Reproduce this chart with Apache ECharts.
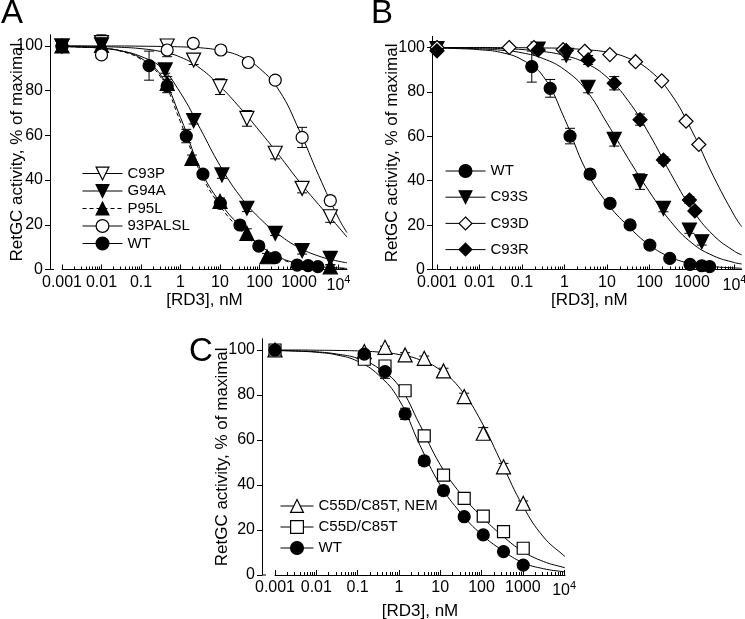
<!DOCTYPE html>
<html>
<head>
<meta charset="utf-8">
<script src="https://cdn.jsdelivr.net/npm/echarts@6.0.0/dist/echarts.min.js"></script>
<style>
html,body{margin:0;padding:0;background:#fff;}
#chart{width:745px;height:619px;}
</style>
</head>
<body>
<div id="chart"></div>
<script>
// ---------- tick labels ----------
const xTickExp = [-3, -2, -1, 0, 1, 2, 3, 4];
const xTickLabels = ['0.001', '0.01', '0.1', '1', '10', '100', '1000', '10^4'];
const yTickValues = [0, 20, 40, 60, 80, 100];

// ---------- Panel A : measured points ([RD3] nM, % activity, error) ----------
const aC93P_x = [0.001, 0.01, 0.46, 2.15, 10, 48, 250, 1200, 6200];
const aC93P_y = [100, 101.5, 100, 93.7, 81.8, 67.6, 52, 36.3, 23.6];
const aC93P_e = [0.5, 3.5, 2.5, 2, 3.5, 3.5, 2.5, 2, 2.5];

const aG94A_x = [0.001, 0.01, 0.41, 2.15, 11.2, 48, 250, 1200, 6200];
const aG94A_y = [100, 100.5, 89.3, 66.6, 42.3, 27.4, 16.2, 8.4, 5];
const aG94A_e = [0.8, 1, 1.5, 1.5, 1.5, 1.5, 1, 1.5, 3];

const aP95L_x = [0.001, 0.01, 0.46, 1.95, 10, 48, 155, 6200];
const aP95L_y = [100, 100.3, 83.3, 49.7, 30.5, 16.2, 5.7, 1.2];
const aP95L_e = [0.8, 1.5, 3, 1.5, 1.5, 2, 1.5, 1];

const aPALSL_x = [0.001, 0.01, 0.46, 2.1, 10.5, 52, 250, 1200, 6200];
const aPALSL_y = [100, 96, 98.2, 101.2, 98.2, 92.6, 84.7, 59.1, 30.8];
const aPALSL_e = [0.5, 1.5, 3, 1.5, 0.8, 1.5, 1.5, 4.5, 2];

const aWT_x = [0.001, 0.16, 0.46, 1.4, 3.7, 10.2, 32, 96, 250, 900, 1700, 3000];
const aWT_y = [100, 91.2, 82.1, 59.7, 42.7, 29.6, 19.9, 10.5, 5.3, 2, 1.7, 1.3];
const aWT_e = [0.8, 6.5, 3, 3, 1.5, 1.5, 1, 1, 1, 0.8, 0.6, 0.5];

// ---------- Panel A : fitted curves (read at log10 [RD3]) ----------
const aCurveExp = [-3, -2.5, -2, -1.5, -1, -0.5, 0, 0.5, 1, 1.5, 2, 2.5, 3, 3.5, 4, 4.215];
const aC93P_fit = [100, 99.9, 99.7, 99.4, 98.8, 97.5, 95, 90, 82, 72.5, 62, 51, 39.5, 29, 19, 14.5];
const aG94A_fit = [99.8, 99.5, 99, 97.8, 95.3, 90.5, 79, 63, 46.5, 33, 23, 15.5, 9.8, 6, 3.7, 3];
const aP95L_fit = [99.8, 99.5, 99, 97.6, 94, 86, 66, 43.5, 28.5, 18, 10, 5, 2.3, 1.1, 0.6, 0.45];
const aPALSL_fit = [100, 100, 100, 100, 99.9, 99.8, 99.6, 99.2, 98, 95.5, 90, 80, 62.5, 42, 23, 16.5];
const aWT_fit = [99.8, 99.5, 99, 97.8, 94.5, 87, 68, 45, 30, 19.5, 11, 5.5, 2.6, 1.3, 0.7, 0.5];

// ---------- Panel B : measured points ----------
const bWT_x = [0.001, 0.17, 0.46, 1.35, 4, 11.8, 35, 102, 300, 900, 1700, 2600];
const bWT_y = [99.2, 91.4, 81.6, 60.1, 43, 29.8, 20.1, 11, 5, 2.3, 1.7, 1.3];
const bWT_e = [1, 7, 4, 3.5, 2, 1, 1, 1, 1, 0.8, 0.6, 0.5];

const bC93S_x = [0.001, 0.24, 1.1, 3.6, 14.8, 60, 213, 870, 1700];
const bC93S_y = [99.5, 99.3, 96.5, 82.1, 58.6, 39.6, 27.5, 17.8, 12.5];
const bC93S_e = [0.8, 1, 2, 2.5, 3, 3.5, 1.5, 1.5, 1.5];

const bC93D_x = [0.001, 0.05, 0.19, 0.93, 3.0, 11.7, 47, 194, 725, 1450];
const bC93D_y = [100, 100, 100, 99, 98.3, 96.8, 93.6, 85, 66.8, 56.3];
const bC93D_e = [0.3, 0.5, 0.5, 0.5, 0.8, 1.2, 1, 0.8, 1, 0.8];

const bC93R_x = [0.001, 0.24, 1.1, 3.6, 14.8, 60, 213, 870, 1170];
const bC93R_y = [98.5, 98.9, 98.6, 94.4, 83.9, 67.5, 49.3, 31.3, 26.4];
const bC93R_e = [1, 1, 1, 2, 3, 2.5, 1.5, 1.5, 1];

// ---------- Panel B : fitted curves ----------
const bCurveExp = [-3, -2.5, -2, -1.5, -1, -0.5, 0, 0.5, 1, 1.5, 2, 2.5, 3, 3.5, 4, 4.17];
const bWT_fit = [99.8, 99.5, 99, 97.8, 94.5, 87, 68, 45, 30, 19.5, 11, 5.5, 2.6, 1.3, 0.7, 0.55];
const bC93S_fit = [99.8, 99.7, 99.4, 98.8, 97.6, 95, 90, 81, 66, 50, 35, 21.6, 11.9, 6.2, 3.1, 2.5];
const bC93D_fit = [100, 100, 100, 99.95, 99.9, 99.8, 99.6, 99, 97.9, 95.2, 89.7, 79.2, 62.4, 42.2, 24.2, 19.3];
const bC93R_fit = [99.95, 99.9, 99.8, 99.5, 99.1, 98.2, 96.4, 93, 86.6, 76, 60.8, 43.2, 27.2, 15.5, 8.2, 6.6];

// ---------- Panel C : measured points ----------
const cConc_x = [0.001, 0.145, 0.46, 1.41, 4.1, 12, 38, 110, 340, 1020];
const cNEM_y = [100, 99.3, 101.2, 97.8, 96.3, 90.7, 79.3, 63, 48.1, 31.9];
const cNEM_e = [0.5, 0.5, 0.5, 1, 1, 1.2, 1.5, 2.5, 1.5, 1];
const cSQ_y = [100, 95.9, 92.9, 81.9, 61.8, 44.4, 34.1, 26.2, 19.3, 11.9];
const cSQ_e = [0.5, 1, 1, 1, 1, 1, 1, 1, 1, 1];
const cWT_y = [100, 98.2, 90.4, 71.6, 50.7, 37.5, 25.9, 17.8, 10.4, 4.4];
const cWT_e = [0.5, 1, 3, 2.5, 2, 2, 1, 1, 1, 1];

// ---------- Panel C : fitted curves ----------
const cCurveExp = [-3, -2.5, -2, -1.5, -1, -0.5, 0, 0.5, 1, 1.5, 2, 2.5, 3, 3.5, 4, 4.02];
const cNEM_fit = [100, 100, 99.9, 99.8, 99.6, 99.1, 98, 95.7, 91.1, 82.4, 68, 49.2, 30.7, 16.9, 8.5, 8.2];
const cSQ_fit = [99.8, 99.6, 99.2, 98.2, 96.3, 92, 84, 67, 49, 36, 26, 17.5, 10.5, 6, 3.3, 3.2];
const cWT_fit = [99.8, 99.5, 99, 97.8, 95, 89, 78, 58, 40, 27.5, 18, 11, 5.5, 2.8, 1.4, 1.35];

// ================= build chart =================
const FONT = 'Liberation Sans, Arial, Helvetica, sans-serif';
const TICK_FS = 16;
const TITLE_FS = 17;
const panels = [
  {left: 62, top: 34.8, width: 285, height: 234.7, yOffset: 12, xMax: 4.215, yNameGap: 24.5, xNameGap: 22},
  {left: 437, top: 36.4, width: 304.7, height: 233.1, yOffset: 5, xMax: 4.17, yNameGap: 31.5, xNameGap: 22},
  {left: 275, top: 338.75, width: 290, height: 236.25, yOffset: 13, xMax: 4.02, yNameGap: 31.5, xNameGap: 28}
];

const minorExp = [];
for (let n = -3; n < 4; n++) for (let k = 2; k <= 9; k++) minorExp.push(n + Math.log10(k));

const STY = {
  openTriDown: {symbol: 'triangle', rotate: 180, size: 14, fill: '#fff'},
  fillTriDown: {symbol: 'triangle', rotate: 180, size: 14, fill: '#000'},
  fillTriUp:   {symbol: 'triangle', rotate: 0, size: 14, fill: '#000'},
  openTriUp:   {symbol: 'triangle', rotate: 0, size: 14, fill: '#fff'},
  openCircle:  {symbol: 'circle', rotate: 0, size: 12, fill: '#fff'},
  fillCircle:  {symbol: 'circle', rotate: 0, size: 12, fill: '#000'},
  openDiamond: {symbol: 'diamond', rotate: 0, size: 14, fill: '#fff'},
  fillDiamond: {symbol: 'diamond', rotate: 0, size: 14, fill: '#000'},
  openSquare:  {symbol: 'rect', rotate: 0, size: 12, fill: '#fff'}
};

const grids = [], xAxes = [], yAxes = [], series = [], stubs = [];

panels.forEach((p, i) => {
  grids.push({left: p.left, top: p.top, width: p.width, height: p.height, containLabel: false, outerBoundsMode: 'none'});
  xAxes.push({
    type: 'value', gridIndex: i, min: -3, max: p.xMax, interval: 1, position: 'bottom',
    name: '[RD3], nM', nameLocation: 'middle', nameGap: p.xNameGap, nameMoveOverlap: false,
    nameTextStyle: {fontSize: TITLE_FS, color: '#000', fontFamily: FONT},
    axisLine: {onZero: false, lineStyle: {color: '#000', width: 1}},
    axisTick: {inside: true, length: 5, lineStyle: {color: '#000'}, customValues: xTickExp},
    axisLabel: {
      customValues: xTickExp, margin: 5, fontSize: TICK_FS, color: '#000', fontFamily: FONT,
      formatter: v => {
        const idx = xTickExp.indexOf(Math.round(v));
        if (idx < 0 || Math.abs(v - Math.round(v)) > 1e-6) return '';
        const t = xTickLabels[idx];
        if (t.indexOf('^') > 0) { const s = t.split('^'); return '{n|' + s[0] + '}{s|' + s[1] + '}'; }
        return t;
      },
      rich: {n: {fontSize: TICK_FS, fontFamily: FONT, color: '#000', verticalAlign: 'bottom'},
             s: {fontSize: 11, fontFamily: FONT, color: '#000', verticalAlign: 'bottom', padding: [0, 0, 8, 0]}}
    },
    splitLine: {show: false}
  });
  xAxes.push({
    type: 'value', gridIndex: i, min: -3, max: p.xMax, interval: 1, position: 'bottom',
    axisLine: {show: false, onZero: false},
    axisTick: {inside: true, length: 3, lineStyle: {color: '#000'}, customValues: minorExp},
    axisLabel: {show: false}, splitLine: {show: false}
  });
  yAxes.push({
    type: 'value', gridIndex: i, min: 0, max: 105, interval: 20, offset: p.yOffset,
    name: 'RetGC activity, % of maximal', nameLocation: 'middle', nameGap: p.yNameGap, nameMoveOverlap: false,
    nameTextStyle: {fontSize: TITLE_FS, color: '#000', fontFamily: FONT},
    axisLine: {show: true, onZero: false, lineStyle: {color: '#000', width: 1}},
    axisTick: {show: true, inside: false, length: 5, lineStyle: {color: '#000'}, customValues: yTickValues},
    axisLabel: {customValues: yTickValues, margin: 7, fontSize: TICK_FS, color: '#000', fontFamily: FONT,
      formatter: v => (yTickValues.indexOf(v) >= 0 ? String(v) : '')},
    splitLine: {show: false}
  });
  // short stub of the x baseline next to the y axis (axis break look)
  const y0 = p.top + p.height, xa = p.left - p.yOffset;
  stubs.push({type: 'line', shape: {x1: xa, y1: y0, x2: xa + 4, y2: y0}, style: {stroke: '#000', lineWidth: 1}, silent: true});
});

function errRender(params, api) {
  const x = api.value(0), y = api.value(1), e = api.value(2);
  const t = api.coord([x, y + e]);
  const b = api.coord([x, y - e]);
  const w = 5;
  const st = {stroke: '#000', lineWidth: 1};
  return {type: 'group', children: [
    {type: 'line', shape: {x1: t[0], y1: t[1], x2: b[0], y2: b[1]}, style: st},
    {type: 'line', shape: {x1: t[0] - w, y1: t[1], x2: t[0] + w, y2: t[1]}, style: st},
    {type: 'line', shape: {x1: b[0] - w, y1: b[1], x2: b[0] + w, y2: b[1]}, style: st}
  ]};
}

function addSet(panel, name, xs, ys, es, exps, fit, sty, dashed) {
  series.push({
    type: 'line', name: name, xAxisIndex: panel * 2, yAxisIndex: panel,
    data: exps.map((e, k) => [e, fit[k]]), smooth: 0.45, showSymbol: false,
    symbol: sty.symbol, symbolRotate: sty.rotate, symbolSize: sty.size,
    itemStyle: {color: sty.fill, borderColor: '#000', borderWidth: 1.2},
    lineStyle: {color: '#000', width: 1, type: dashed ? [4, 3] : 'solid'},
    silent: true, z: 2
  });
  series.push({
    type: 'custom', name: name + ' err', xAxisIndex: panel * 2, yAxisIndex: panel,
    data: xs.map((x, k) => [Math.log10(x), ys[k], es[k]]),
    encode: {x: 0, y: 1}, renderItem: errRender, silent: true, z: 3
  });
  series.push({
    type: 'scatter', name: name + ' pts', xAxisIndex: panel * 2, yAxisIndex: panel,
    data: xs.map((x, k) => [Math.log10(x), ys[k]]),
    symbol: sty.symbol, symbolRotate: sty.rotate, symbolSize: sty.size,
    itemStyle: {color: sty.fill, borderColor: '#000', borderWidth: 1.2, opacity: 1},
    silent: true, z: 4
  });
}

// Panel A
addSet(0, 'C93P', aC93P_x, aC93P_y, aC93P_e, aCurveExp, aC93P_fit, STY.openTriDown);
addSet(0, 'G94A', aG94A_x, aG94A_y, aG94A_e, aCurveExp, aG94A_fit, STY.fillTriDown);
addSet(0, 'P95L', aP95L_x, aP95L_y, aP95L_e, aCurveExp, aP95L_fit, STY.fillTriUp, true);
addSet(0, '93PALSL', aPALSL_x, aPALSL_y, aPALSL_e, aCurveExp, aPALSL_fit, STY.openCircle);
addSet(0, 'WT', aWT_x, aWT_y, aWT_e, aCurveExp, aWT_fit, STY.fillCircle);
// Panel B
addSet(1, 'WT ', bWT_x, bWT_y, bWT_e, bCurveExp, bWT_fit, STY.fillCircle);
addSet(1, 'C93S', bC93S_x, bC93S_y, bC93S_e, bCurveExp, bC93S_fit, STY.fillTriDown);
addSet(1, 'C93D', bC93D_x, bC93D_y, bC93D_e, bCurveExp, bC93D_fit, STY.openDiamond);
addSet(1, 'C93R', bC93R_x, bC93R_y, bC93R_e, bCurveExp, bC93R_fit, STY.fillDiamond);
// Panel C
addSet(2, 'C55D/C85T, NEM', cConc_x, cNEM_y, cNEM_e, cCurveExp, cNEM_fit, STY.openTriUp);
addSet(2, 'C55D/C85T', cConc_x, cSQ_y, cSQ_e, cCurveExp, cSQ_fit, STY.openSquare);
addSet(2, 'WT  ', cConc_x, cWT_y, cWT_e, cCurveExp, cWT_fit, STY.fillCircle);

function legItem(name, fill, dashed) {
  return {name: name, itemStyle: {color: fill, borderColor: '#000', borderWidth: 1.2},
          lineStyle: {color: '#000', width: 1, type: dashed ? [4, 3] : 'solid'}};
}
const legTxt = {fontSize: 15, color: '#000', fontFamily: FONT};
const legends = [
  {orient: 'vertical', left: 77, top: 161, itemWidth: 40, itemHeight: 16, itemGap: 2.5, selectedMode: false, textStyle: legTxt,
   data: [legItem('C93P', '#fff'), legItem('G94A', '#000'), legItem('P95L', '#000', true), legItem('93PALSL', '#fff'), legItem('WT', '#000')]},
  {orient: 'vertical', left: 440, top: 158.5, itemWidth: 40, itemHeight: 16, itemGap: 11.2, selectedMode: false, textStyle: legTxt,
   data: [legItem('WT ', '#000'), legItem('C93S', '#000'), legItem('C93D', '#fff'), legItem('C93R', '#000')]},
  {orient: 'vertical', left: 275, top: 493.5, itemWidth: 33, itemHeight: 16, itemGap: 6, selectedMode: false, textStyle: legTxt,
   data: [legItem('C55D/C85T, NEM', '#fff'), legItem('C55D/C85T', '#fff'), legItem('WT  ', '#000')]}
];

const chart = echarts.init(document.getElementById('chart'), null, {renderer: 'canvas'});
chart.setOption({
  animation: false,
  backgroundColor: '#fff',
  textStyle: {fontFamily: FONT},
  grid: grids, xAxis: xAxes, yAxis: yAxes, legend: legends, series: series,
  graphic: stubs.concat([
    {type: 'text', left: 1, top: -3, style: {text: 'A', fontSize: 33, fontFamily: FONT, fill: '#000'}},
    {type: 'text', left: 371, top: -3, style: {text: 'B', fontSize: 33, fontFamily: FONT, fill: '#000'}},
    {type: 'text', left: 189, top: 335, style: {text: 'C', fontSize: 33, fontFamily: FONT, fill: '#000'}}
  ])
});
</script>
</body>
</html>
